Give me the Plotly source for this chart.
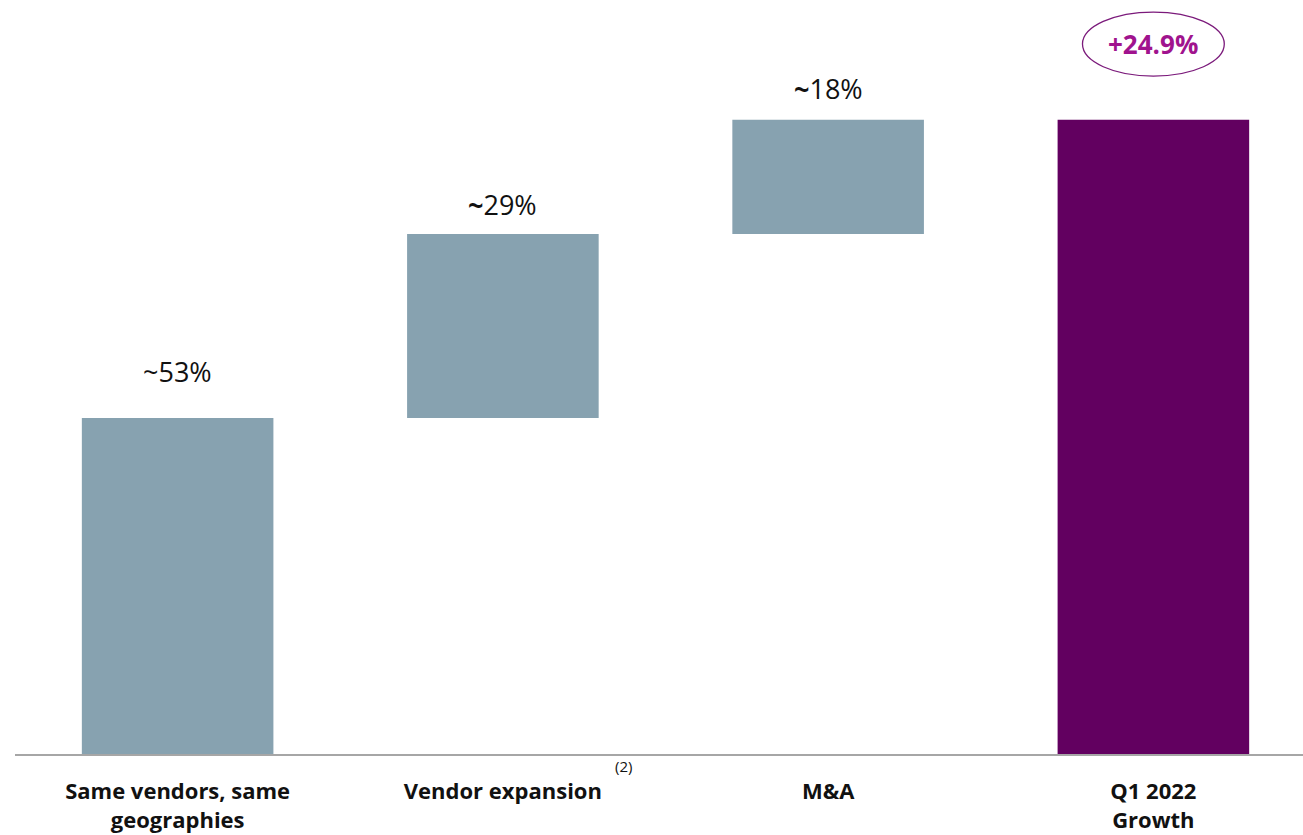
import plotly.graph_objects as go

# Growth contribution breakdown
categories = ["Same vendors, same<br>geographies", "Vendor expansion", "M&A", "Q1 2022<br>Growth"]
measures = ["relative", "relative", "relative", "total"]
shares = [53, 29, 18, 0]
value_labels = ["~53%", "<b>~</b>29%", "<b>~</b>18%", ""]
total_label = "+24.9%"

BAR_GREY = "#87A2B0"
TOTAL_PURPLE = "#620060"
LABEL_FONT = "Open Sans, Noto Sans, DejaVu Sans, sans-serif"
# vertical gap (px) between each bar top and the centre of its label
label_gap_px = [46, 30, 31, 0]

fig = go.Figure(
    go.Waterfall(
        x=list(range(len(categories))),
        y=shares,
        measure=measures,
        increasing=dict(marker=dict(color=BAR_GREY)),
        decreasing=dict(marker=dict(color=BAR_GREY)),
        totals=dict(marker=dict(color=TOTAL_PURPLE)),
        connector=dict(visible=False),
        hoverinfo="skip",
    )
)

# value labels above each increment
running = 0
for i, (v, lab) in enumerate(zip(shares, value_labels)):
    running += v
    if lab:
        fig.add_annotation(
            x=i, y=running, text=lab, showarrow=False, yanchor="middle",
            yshift=label_gap_px[i], font=dict(size=27, color="#111111", family=LABEL_FONT),
        )

# circled total label
total = sum(shares)
last = len(categories) - 1
fig.add_shape(
    type="circle", xref="x", yref="y",
    x0=last - 0.218, x1=last + 0.218, y0=total + 6.9, y1=total + 17.0,
    line=dict(color="#7B1A7B", width=1.3), fillcolor="rgba(0,0,0,0)",
)
fig.add_annotation(
    x=last, y=total + 11.95, text=f"<b>{total_label}</b>", showarrow=False,
    yanchor="middle", font=dict(size=26, color="#A0138E", family=LABEL_FONT),
)

# footnote marker next to the vendor expansion label
fig.add_annotation(
    x=1, y=0, text="(2)", showarrow=False, xshift=121, yshift=-12,
    font=dict(size=15, color="#111111", family=LABEL_FONT),
)

fig.update_layout(
    width=1303, height=835,
    margin=dict(l=15, r=0, t=0, b=81),
    plot_bgcolor="white", paper_bgcolor="white",
    showlegend=False,
    waterfallgap=0.411,
    xaxis=dict(
        range=[-0.5, 3.46], tickmode="array",
        tickvals=list(range(len(categories))),
        ticktext=[f"<b>{c}</b>".replace("<br>", "</b><br><b>") for c in categories],
        showline=True, linecolor="#A6A6A6", linewidth=1.5,
        showgrid=False, zeroline=False, ticks="",
        ticklabelstandoff=17,
        tickfont=dict(size=22, color="#111111", family=LABEL_FONT),
        fixedrange=True,
    ),
    yaxis=dict(
        range=[0, 118.9], visible=False, showgrid=False, zeroline=False,
        fixedrange=True,
    ),
)

fig.write_html("out.html")
